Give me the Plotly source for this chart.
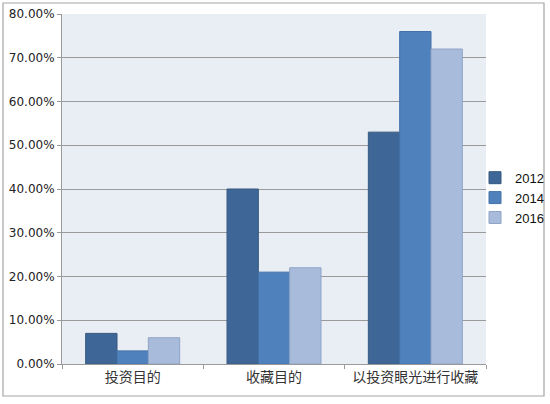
import plotly.graph_objects as go

categories = ["投资目的", "收藏目的", "以投资眼光进行收藏"]
years = ["2012", "2014", "2016"]
v2012 = [0.07, 0.40, 0.53]
v2014 = [0.03, 0.21, 0.76]
v2016 = [0.06, 0.22, 0.72]

fills = ["#3E6798", "#4F81BD", "#A8BBDA"]
edges = ["#36597F", "#4472A8", "#8FA4C8"]

W, H = 550, 404
ml, mr, mt, mb = 62, 64, 14, 40
pw, ph = W - ml - mr, H - mt - mb

fig = go.Figure()
for name, vals, fc, ec in zip(years, [v2012, v2014, v2016], fills, edges):
    fig.add_trace(go.Bar(x=categories, y=vals, name=name,
                         marker=dict(color=fc, line=dict(color=ec, width=1))))

# outer chart border (in paper coords computed from pixel margins)
fig.add_shape(type="rect", xref="paper", yref="paper",
              x0=(3 - ml) / pw, x1=(544 - ml) / pw,
              y0=(H - mb - 396) / ph, y1=(H - mb - 3) / ph,
              line=dict(color="#A6A6A6", width=1.2), fillcolor="rgba(0,0,0,0)")

fig.update_layout(
    width=W, height=H,
    margin=dict(l=ml, r=mr, t=mt, b=mb, autoexpand=False),
    paper_bgcolor="white",
    plot_bgcolor="#E9EDF4",
    barmode="group", bargap=0.335, bargroupgap=0,
    font=dict(family="DejaVu Sans, Noto Sans CJK SC", size=12, color="#222"),
    legend=dict(x=(475 - ml) / pw, y=0.475, xanchor="left", yanchor="middle",
                font=dict(family="Liberation Sans, Noto Sans CJK SC", size=13,
                          color="#111"),
                itemwidth=30, tracegroupgap=0, bgcolor="rgba(0,0,0,0)"),
    showlegend=True,
)
fig.update_yaxes(range=[0, 0.8], dtick=0.1, tickformat=".2%",
                 showgrid=True, gridcolor="#9A9A9A", gridwidth=1,
                 showline=True, linecolor="#9A9A9A", ticks="outside",
                 tickcolor="#9A9A9A", ticklen=4, zeroline=False,
                 automargin=False, tickfont=dict(size=12))
fig.update_xaxes(showline=True, linecolor="#9A9A9A", ticks="outside",
                 tickcolor="#9A9A9A", ticklen=4, tickson="boundaries",
                 automargin=False,
                 tickfont=dict(family="Noto Sans CJK SC", size=14, color="#333"))

# drop the browser's default body margin so the figure sits at the page corner
fig.write_html("out.html", config={"displayModeBar": False},
               post_script="document.body.style.margin='0';")
